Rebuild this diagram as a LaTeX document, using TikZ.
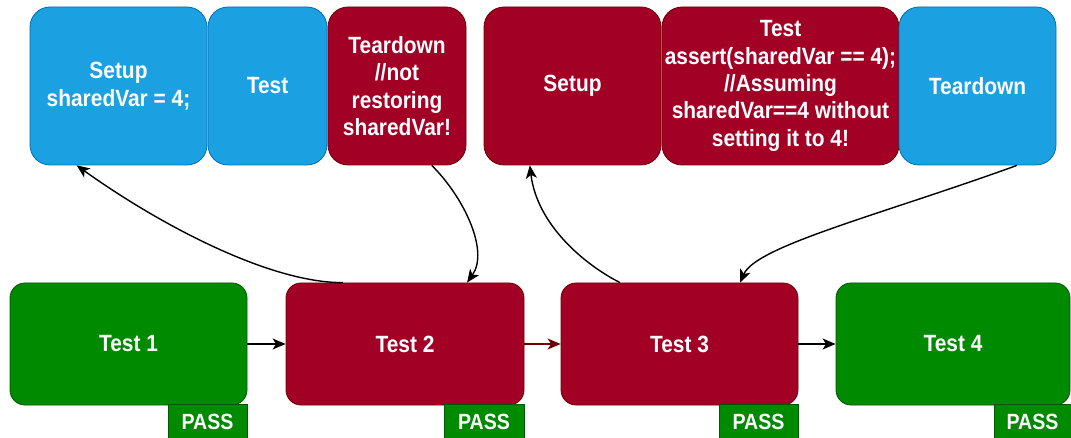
\documentclass[tikz,border=0pt]{standalone}
\usepackage{fontspec}
\setmainfont{Liberation Sans}[FakeStretch=0.89]
\usetikzlibrary{arrows.meta,calc}

\definecolor{bluefill}{HTML}{1BA1E2}
\definecolor{blueline}{HTML}{006EAF}
\definecolor{redfill}{HTML}{A20025}
\definecolor{redline}{HTML}{6F0000}
\definecolor{greenfill}{HTML}{008A00}
\definecolor{greenline}{HTML}{005700}

\tikzset{
  box/.style={draw, line width=0.8pt, text=white, align=center, inner sep=2pt,
    font=\bfseries\fontsize{23.5}{27.3}\selectfont},
  topbox/.style={box, rounded corners=20pt, minimum height=158pt},
  testbox/.style={box, rounded corners=15pt, minimum height=122pt},
  bluebox/.style={fill=bluefill, draw=blueline},
  redbox/.style={fill=redfill, draw=redline},
  greenbox/.style={fill=greenfill, draw=greenline},
  passbox/.style={box, greenbox, minimum height=35pt, font=\bfseries\fontsize{22}{26}\selectfont},
  flow/.style={line width=1.4pt, -{Stealth[length=13pt,width=11pt,inset=3.5pt]}},
}

\begin{document}
\begin{tikzpicture}[x=1pt,y=-1pt]
\useasboundingbox (0,0) rectangle (1071,438);

% upper row: the phases of two tests
\node[topbox, bluebox, minimum width=177pt] (s1) at (118.5,86) {Setup\\sharedVar = 4;};
\node[topbox, bluebox, minimum width=119pt] (t1) at (267.5,86) {Test};
\node[topbox, redbox,  minimum width=138pt] (d1) at (397,86) {Teardown\\//not\\restoring\\sharedVar!};
\node[topbox, redbox,  minimum width=177pt] (s2) at (572.5,86) {Setup};
\node[topbox, redbox,  minimum width=237pt] (t2) at (780.5,86) {Test\\assert(sharedVar == 4);\\//Assuming\\sharedVar==4 without\\setting it to 4!};
\node[topbox, bluebox, minimum width=157pt] (d2) at (977.5,86) {Teardown};

% lower row: the test sequence
\node[testbox, greenbox, minimum width=237pt] (T1) at (128.5,344) {Test 1};
\node[testbox, redbox,   minimum width=238pt] (T2) at (405,344) {Test 2};
\node[testbox, redbox,   minimum width=237pt] (T3) at (679.5,344) {Test 3};
\node[testbox, greenbox, minimum width=234pt] (T4) at (953,344) {Test 4};

% result badges
\node[passbox, minimum width=79pt] (p1) at (207.5,422) {PASS};
\node[passbox, minimum width=80pt] (p2) at (484,422) {PASS};
\node[passbox, minimum width=79pt] (p3) at (758.5,422) {PASS};
\node[passbox, minimum width=77pt] (p4) at (1032.5,422) {PASS};

% sequence arrows
\draw[flow] (T1) -- (T2);
\draw[flow, draw=redline] (T2) -- (T3);
\draw[flow] (T3) -- (T4);

% links between tests and their phases
\draw[flow] ($(T2.north west)!0.24!(T2.north east)$)
  .. controls (270,283) and (160,225) .. ($(s1.south west)!0.265!(s1.south east)$);
\draw[flow] ($(d1.south west)!0.75!(d1.south east)$)
  .. controls (462,195) and (490,250) .. ($(T2.north west)!0.76!(T2.north east)$);
\draw[flow] ($(T3.north west)!0.25!(T3.north east)$)
  .. controls (585,265) and (537,225) .. ($(s2.south west)!0.26!(s2.south east)$);
\draw[flow] ($(d2.south west)!0.75!(d2.south east)$)
  .. controls (880,215) and (756,246) .. ($(T3.north west)!0.755!(T3.north east)$);
\end{tikzpicture}
\end{document}
